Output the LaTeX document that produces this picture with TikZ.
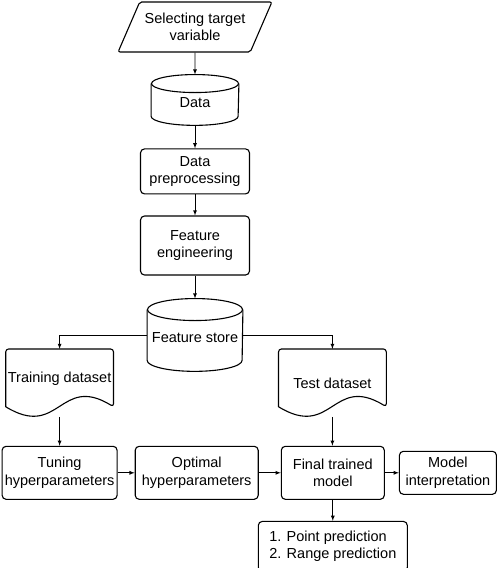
\documentclass[tikz,border=0pt]{standalone}
\usepackage{fontspec}
\setmainfont{Liberation Sans}
\usetikzlibrary{shapes.geometric, positioning, arrows}

\tikzset{
  box/.style={draw, rounded corners=4pt, line width=1.1pt, align=center, inner sep=1pt},
  io/.style={trapezium, trapezium left angle=55, trapezium right angle=125,
    trapezium stretches=true, draw, rounded corners=2pt, line width=1.1pt,
    align=center, inner sep=0pt, minimum width=154pt, minimum height=50pt},
  db/.style={align=center, inner sep=0pt, text height=15.5pt, text depth=0pt},
  doc/.style={align=center, inner sep=0pt, minimum width=107pt, minimum height=67pt},
  shapeline/.style={-, line width=1.1pt},
}
% cylinder: node, half width, ellipse radius
\newcommand{\drawdb}[3]{%
  \draw[shapeline] ([yshift=-#3]#1.north west) -- ([yshift=#3]#1.south west)
    arc[start angle=180, end angle=360, x radius=#2, y radius=#3]
    -- ([yshift=-#3]#1.north east);
  \draw[shapeline] ([yshift=-#3]#1.north) ellipse[x radius=#2, y radius=#3];
}
% document with wavy bottom
\newcommand{\drawdoc}[1]{%
  \draw[shapeline, rounded corners=3pt] ([yshift=10pt]#1.south west) -- (#1.north west)
    -- (#1.north east) -- ([yshift=10pt]#1.south east) [sharp corners]
    .. controls ([yshift=43pt]#1.south) and ([yshift=-23pt]#1.south) .. ([yshift=10pt]#1.south west);
}

\begin{document}
\begin{tikzpicture}[->, >=latex, node distance=22pt, line width=0.8pt,
    font=\fontsize{14.5}{17.5}\selectfont]
  \useasboundingbox (0,0) rectangle (500pt,-568pt);

  % main column
  \node[io] (sel) at (195pt,-27pt) {Selecting target\\variable};
  \node[db, minimum width=87pt, minimum height=50pt, below=22pt of sel] (data) {Data};
  \node[box, minimum width=109pt, minimum height=45pt, below=23pt of data] (prep) {Data\\preprocessing};
  \node[box, minimum width=109pt, minimum height=59pt, below=21pt of prep] (feat) {Feature\\engineering};
  \node[db, minimum width=95pt, minimum height=72pt, below=23pt of feat] (store) {Feature store};
  \drawdb{data}{43.5pt}{9pt}
  \drawdb{store}{47.5pt}{11pt}

  % datasets
  \node[doc, text depth=11pt, below=14pt of store.west, xshift=-87.5pt] (train) {Training dataset};
  \node[doc, below=14pt of store.east, xshift=89.5pt] (test) {Test dataset};
  \drawdoc{train}
  \drawdoc{test}

  % bottom row
  \node[box, minimum width=115pt, minimum height=53pt, below=29pt of train] (tune) {Tuning\\hyperparameters};
  \node[box, minimum width=123pt, minimum height=53pt, right=17pt of tune] (opt) {Optimal\\hyperparameters};
  \node[box, minimum width=103pt, minimum height=53pt, right=22pt of opt] (final) {Final trained\\model};
  \node[box, minimum width=97pt, minimum height=43pt, right=14pt of final] (interp) {Model\\interpretation};
  \node[box, align=left, minimum width=149pt, minimum height=50pt, below=21pt of final] (result) {1. Point prediction\\2. Range prediction};

  \draw (sel) -- (data);
  \draw (data) -- (prep);
  \draw (prep) -- (feat);
  \draw (feat) -- (store);
  \draw (store.west) -| (train.north);
  \draw (store.east) -| (test.north);
  \draw (train) -- (tune);
  \draw (test.south) -- (test.south |- final.north);
  \draw (tune) -- (opt);
  \draw (opt) -- (final);
  \draw (final) -- (interp);
  \draw (final) -- (result);
\end{tikzpicture}
\end{document}
